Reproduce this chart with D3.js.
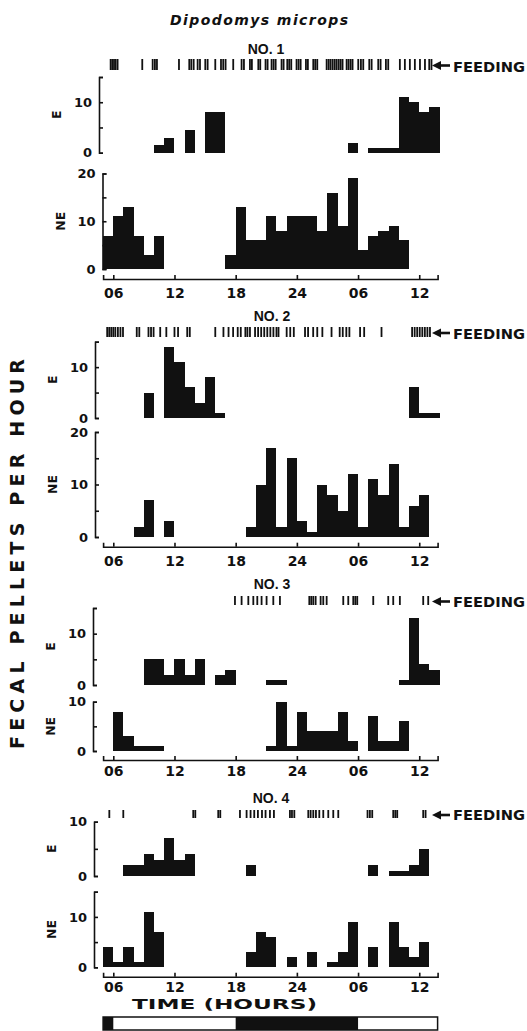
<!DOCTYPE html>
<html>
<head>
<meta charset="utf-8">
<script src="https://cdn.jsdelivr.net/npm/d3@7"></script>
<style>
body { margin: 0; background: #fff; }
svg { color: #111; }
svg text { font-family: "DejaVu Sans", sans-serif; font-weight: bold; fill: #111; }
.axis path, .axis line { stroke: #111; stroke-width: 1.6; }
.xaxis text { font-size: 14px; }
.yaxis text { font-size: 13px; }
.title { font-style: italic; font-weight: bold; font-size: 14px; }
.nolabel { font-family: "Liberation Sans", Arial, sans-serif !important; font-size: 14px; }
</style>
</head>
<body>
<div id="chart"></div>
<script>
// Hour bins (start hour of each 1-h bin; 30 = 06 next day, 36 = 12 next day)
const binHours = [5, 6, 7, 8, 9, 10, 11, 12, 13, 14, 15, 16, 17, 18, 19, 20, 21,
                  22, 23, 24, 25, 26, 27, 28, 29, 30, 31, 32, 33, 34, 35, 36, 37];
const tickHours = [6, 12, 18, 24, 30, 36];
const tickLabels = ["06", "12", "18", "24", "06", "12"];
const nightSpans = [[5, 6], [18, 30]];

// fecal pellets per hour, E and NE, one value per bin
const e1  = [0,0,0,0,0, 1.5,3,0,4.5,0,8,8, 0,0,0,0,0,0,0,0,0,0,0,0, 2,0,1,1,1, 11,10,8,9];
const ne1 = [7,11,13,7,3,7, 0,0,0,0,0,0, 3,13,6,6,11,8,11,11,11,8,16,9,19,4,7,8,9,6, 0,0,0];
const e2  = [0,0,0,0, 5,0,14,11,6,3,8,1, 0,0,0,0,0,0,0,0,0,0,0,0,0,0,0,0,0,0, 6,1,1];
const ne2 = [0,0,0, 2,7,0,3, 0,0,0,0,0,0,0, 2,10,17,2,15,3,1,10,8,5,12,2,11,8,14,2,6,8, 0];
const e3  = [0,0,0,0, 5,5,2,5,2,5,0,2,3, 0,0,0, 1,1, 0,0,0,0,0,0,0,0,0,0,0, 1,13,4,3];
const ne3 = [0, 8,3,1,1,1, 0,0,0,0,0,0,0,0,0,0, 1,10,1,8,4,4,4,8,2,0,7,2,2,6, 0,0,0];
const e4  = [0,0, 2,2,4,3,7,3,4, 0,0,0,0,0, 2, 0,0,0,0,0,0,0,0,0,0,0, 2,0,1,1,2,5, 0];
const ne4 = [4,1,4,1,11,7, 0,0,0,0,0,0,0,0, 3,7,6,0,2,0,3,0,1,3,9,0,4,0,9,4,2,5, 0];

// feeding events (hour)
const feed1 = [5.74,5.9,6.07,6.23,6.42, 8.84, 9.86,10.08,10.28, 12.44, 13.45,13.65,13.88,
  14.27,14.5, 15.02,15.25, 16.0, 16.56,16.78,17.01, 17.76, 18.58,18.81, 19.4,19.59,
  20.22,20.41, 20.93,21.13, 21.52,21.72,21.92, 22.5,22.7, 23.06,23.25,23.45,
  23.97,24.17,24.37, 24.89,25.08, 25.61,25.8,26.0, 26.92,27.12,27.31,27.51,27.71,
  27.9,28.1,28.29,28.48, 28.88,29.07,29.27,29.46, 30.02,30.28,30.51, 31.1,31.33,
  31.98,32.21, 32.73,32.96, 34.1,34.59,35.08,35.57,36.07,36.56,36.98,37.2];
const feed2 = [5.4,5.6,5.8,6.0,6.2,6.45,6.7,6.95, 8.3,8.55, 9.45,9.7,9.95, 10.6, 11.2,
  12.0,12.35, 13.25,13.5, 16.0, 16.8, 17.3,17.75, 18.2,18.5, 18.95,19.15,19.4,
  19.9,20.2, 20.5,20.8,21.1,21.4,21.7,22.0,22.2, 23.0,23.35,23.7, 24.8,25.1,
  25.6,26.0, 26.5, 27.4, 28.2,28.5,28.85,29.15, 30.2,30.6, 32.3,
  35.3,35.55,35.8,36.05,36.3,36.55,36.8,37.05];
const feed3 = [17.93,18.58,19.24,19.73,20.12,20.54,21.03,21.69,22.34, 25.22,25.41,25.61,25.84,
  26.33,26.59,26.92, 28.55,29.04,29.53,29.73,29.92, 31.49, 32.96,33.45, 34.1, 36.39,36.88];
const feed4 = [5.61,6.98, 13.84,14.04, 16.29,16.49, 18.42, 19.07,19.46,19.82,20.18,20.58,
  20.93,21.36,21.75, 23.32,23.52,23.75, 25.12,25.35,25.61,25.87,26.2,26.59,27.08,27.57,
  28.06, 30.93,31.16,31.39, 33.45,33.65,33.84, 36.39,36.62];

const W = 527, H = 1031;
const svg = d3.select("#chart").append("svg")
    .attr("width", W)
    .attr("height", H);

// shared time scale
const x = d3.scaleLinear().domain([5, 37.8]).range([103.1, 437.6]);
const xr = h => Math.round(x(h));

// Panel layout (pixels)
const panels = [
    {no: "NO. 1", noX: 266, noY: 54, feed: feed1, feedY: [59, 70], axX: [99, 102.5],
     e:  {vals: e1,  y0: 152.7, top: 15, yTop: 77},
     ne: {vals: ne1, y0: 269,   top: 20, yTop: 173.5},
     axisY: 279, labDy: 19},
    {no: "NO. 2", noX: 272, noY: 321, feed: feed2, feedY: [327, 337], axX: [95, 95],
     e:  {vals: e2,  y0: 418, top: 15, yTop: 341.7},
     ne: {vals: ne2, y0: 537, top: 20, yTop: 432},
     axisY: 546.7, labDy: 19},
    {no: "NO. 3", noX: 272, noY: 589, feed: feed3, feedY: [596, 605], axX: [93, 93],
     e:  {vals: e3,  y0: 685, top: 15, yTop: 608},
     ne: {vals: ne3, y0: 751, top: 10, yTop: 701.7},
     axisY: 760, labDy: 16},
    {no: "NO. 4", noX: 271, noY: 803, feed: feed4, feedY: [810, 818], axX: [94, 94],
     e:  {vals: e4,  y0: 876,   top: 10, yTop: 821.7},
     ne: {vals: ne4, y0: 967.3, top: 15, yTop: 891.7},
     axisY: 976.7, labDy: 15}
];

function drawSub(g, cfg, axisX, label) {
    var y = d3.scaleLinear().domain([0, cfg.top]).range([cfg.y0, cfg.yTop]);
    var data = binHours.map((h, i) => ({h: h, v: cfg.vals[i]})).filter(d => d.v > 0);

    // bars snapped to whole pixels so neighbours join without seams
    g.append("g")
        .attr("shape-rendering", "crispEdges")
        .selectAll("rect")
        .data(data)
        .enter()
        .append("rect")
        .attr("x", d => xr(d.h))
        .attr("width", d => xr(d.h + 1) - xr(d.h))
        .attr("y", d => Math.round(y(d.v)))
        .attr("height", d => Math.round(y(0)) - Math.round(y(d.v)))
        .attr("fill", "#111");

    var yAxis = d3.axisLeft(y)
        .tickValues(d3.range(0, cfg.top + 1, 5))
        .tickSizeInner(-4)
        .tickSizeOuter(-4)
        .tickPadding(7)
        .tickFormat(d => d % 10 === 0 ? d : "");
    g.append("g")
        .attr("class", "axis yaxis")
        .attr("transform", `translate(${axisX},0)`)
        .call(yAxis)
        .call(a => a.attr("font-family", null).attr("font-size", null));

    // E / NE label, rotated
    var cy = (cfg.y0 + cfg.yTop) / 2;
    g.append("text")
        .attr("transform", `translate(${axisX - 38},${cy}) rotate(-90)`)
        .attr("text-anchor", "middle")
        .attr("font-size", 12.5)
        .text(label);
}

panels.forEach(p => {
    var g = svg.append("g");

    g.append("text")
        .attr("class", "nolabel")
        .attr("x", p.noX).attr("y", p.noY)
        .attr("text-anchor", "middle")
        .text(p.no);

    // feeding marks
    g.append("g").selectAll("line")
        .data(p.feed)
        .enter()
        .append("line")
        .attr("x1", d => x(d)).attr("x2", d => x(d))
        .attr("y1", p.feedY[0]).attr("y2", p.feedY[1])
        .attr("stroke", "#111")
        .attr("stroke-width", 1.8);

    var yc = (p.feedY[0] + p.feedY[1]) / 2 + 1;
    g.append("polygon")
        .attr("points", `432,${yc} 441,${yc - 4.5} 441,${yc + 4.5}`)
        .attr("fill", "#111");
    g.append("line")
        .attr("x1", 438).attr("x2", 450)
        .attr("y1", yc).attr("y2", yc)
        .attr("stroke", "#111").attr("stroke-width", 2.6);
    g.append("text")
        .attr("x", 453).attr("y", p.feedY[1] + 2)
        .attr("font-size", 13.5)
        .attr("textLength", 72)
        .attr("lengthAdjust", "spacingAndGlyphs")
        .text("FEEDING");

    drawSub(g, p.e, p.axX[0], "E");
    drawSub(g, p.ne, p.axX[1], "NE");

    // time axis
    var xAxis = d3.axisBottom(x)
        .tickValues(tickHours)
        .tickFormat((d, i) => tickLabels[i])
        .tickSizeInner(-4)
        .tickSizeOuter(-4);
    g.append("g")
        .attr("class", "axis xaxis")
        .attr("transform", `translate(0,${p.axisY})`)
        .call(xAxis)
        .call(a => a.attr("font-family", null).attr("font-size", null))
        .call(a => a.selectAll("text").attr("dy", null).attr("y", p.labDy));
});

// title
svg.append("text")
    .attr("class", "title")
    .attr("x", 170).attr("y", 25)
    .attr("textLength", 178)
    .attr("lengthAdjust", "spacing")
    .text("Dipodomys  microps");

// y title
svg.append("text")
    .attr("transform", "translate(24,554) rotate(-90)")
    .attr("text-anchor", "middle")
    .attr("font-size", 19)
    .attr("textLength", 390)
    .attr("lengthAdjust", "spacing")
    .text("FECAL PELLETS PER HOUR");

// x title
svg.append("text")
    .attr("x", 132).attr("y", 1009)
    .attr("font-size", 14)
    .attr("textLength", 185)
    .attr("lengthAdjust", "spacingAndGlyphs")
    .text("TIME (HOURS)");

// light / dark bar
svg.append("g").selectAll("rect")
    .data(nightSpans)
    .enter()
    .append("rect")
    .attr("x", d => x(d[0]))
    .attr("width", d => x(d[1]) - x(d[0]))
    .attr("y", 1017)
    .attr("height", 13)
    .attr("fill", "#111");
svg.append("rect")
    .attr("x", x(5)).attr("y", 1017)
    .attr("width", x(37.8) - x(5))
    .attr("height", 13)
    .attr("fill", "none")
    .attr("stroke", "#111")
    .attr("stroke-width", 1.5);
</script>
</body>
</html>
